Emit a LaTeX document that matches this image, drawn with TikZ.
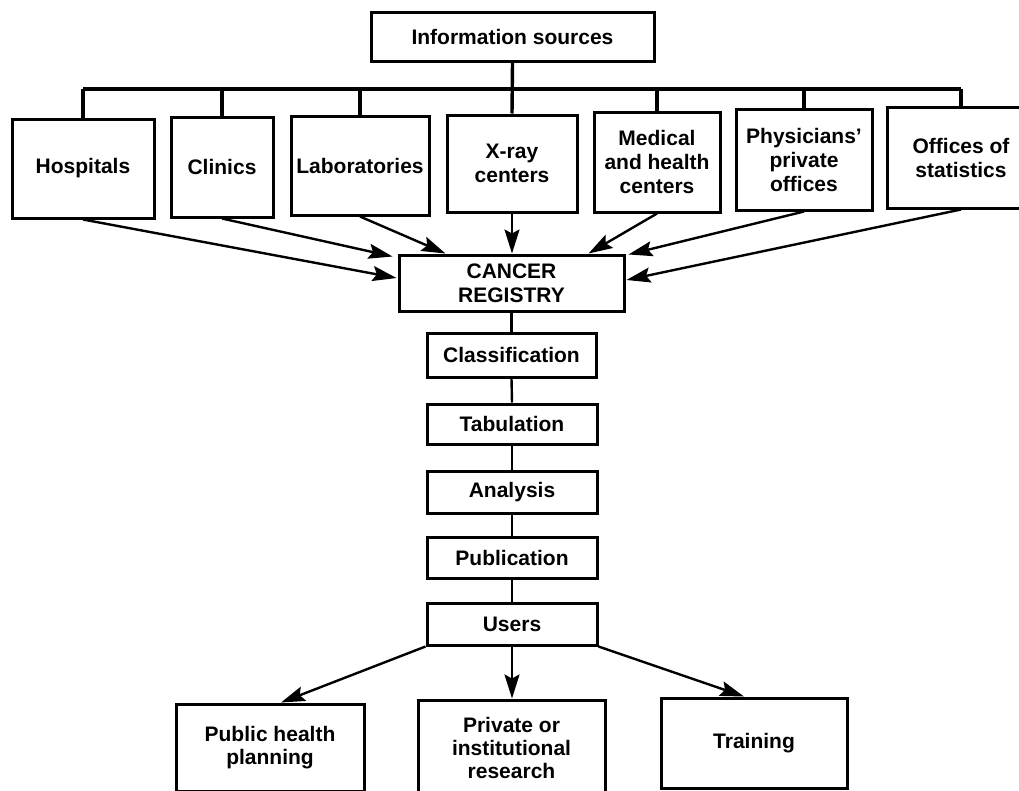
\documentclass[tikz,border=0pt]{standalone}
\usepackage{fontspec}
\setmainfont{Liberation Sans}
\usetikzlibrary{arrows.meta,calc}
\begin{document}
\begin{tikzpicture}[x=1pt,y=-1pt,
  box/.style={draw,line width=3pt,inner sep=0pt,align=center,
    font=\fontsize{21}{24}\selectfont\bfseries},
  lowbox/.style={box,font=\fontsize{21}{23}\selectfont\bfseries},
  bus/.style={line width=3.4pt},
  link/.style={line width=2.4pt},
  arr/.style={line width=2.4pt,-{Stealth[length=24pt,width=15pt,inset=4pt]}}]
\useasboundingbox (0,0) rectangle (1019,790);
% top
\node[box,minimum width=283,minimum height=49] (info) at (512.5,36.5) {Information sources};
\node[box,minimum width=142,minimum height=99] (hosp) at (83,168.5) {Hospitals};
\node[box,minimum width=102,minimum height=100] (clin) at (222,167) {Clinics};
\node[box,minimum width=138,minimum height=99] (lab) at (360,165.5) {Laboratories};
\node[box,minimum width=130,minimum height=97] (xray) at (512,163.5) {X-ray\\centers};
\node[box,minimum width=126,minimum height=100] (med) at (657,162) {Medical\\and health\\centers};
\node[box,minimum width=136,minimum height=101] (phys) at (804,159.5) {Physicians'\\private\\offices};
\node[box,minimum width=148,minimum height=101] (off) at (961,157.5) {Offices of\\statistics};
\coordinate (busy) at (0,89);
\draw[bus] (hosp.north |- busy) -- (off.north |- busy);
\draw[bus] (info.south) -- (xray.north);
\foreach \n in {hosp,clin,lab,med,phys,off}
  \draw[bus] (\n.north) -- (\n.north |- busy);
% registry
\node[box,minimum width=225,minimum height=56] (reg) at (511.5,283) {CANCER\\REGISTRY};
\draw[arr] (hosp.south) -- ($(reg.west)+(-1,-5)$);
\draw[arr] (clin.south) -- ($(reg.north west)+(-5,3)$);
\draw[arr] (lab.south) -- ($(reg.north west)+(48,0)$);
\draw[arr] (xray.south) -- (xray.south |- reg.north);
\draw[arr] (med.south) -- ($(reg.north east)+(-37,0)$);
\draw[arr] (phys.south) -- ($(reg.north east)+(3,1)$);
\draw[arr] (off.south) -- ($(reg.east)+(1,-3)$);
% chain
\node[box,minimum width=169,minimum height=44] (cls) at (511.5,355) {Classification};
\node[box,minimum width=170,minimum height=40] (tab) at (512,424) {Tabulation};
\node[box,minimum width=170,minimum height=42] (ana) at (512,492) {Analysis};
\node[box,minimum width=170,minimum height=41] (pub) at (512,557.5) {Publication};
\node[box,minimum width=170,minimum height=42] (usr) at (512,624) {Users};
\draw[link] (reg.south) -- (cls.north);
\draw[link] (cls.south) -- (tab.north);
\draw[link] (tab.south) -- (ana.north);
\draw[link] (ana.south) -- (pub.north);
\draw[link] (pub.south) -- (usr.north);
% users
\node[lowbox,minimum width=188,minimum height=87] (phealth) at (270,747.5) {Public health\\planning};
\node[lowbox,minimum width=187,minimum height=96] (priv) at (511.5,748) {Private or\\institutional\\research};
\node[lowbox,minimum width=186,minimum height=90] (train) at (754,743) {Training};
\draw[arr] (usr.south west) -- ($(phealth.north)+(11,0)$);
\draw[arr] (usr.south) -- (usr.south |- priv.north);
\draw[arr] (usr.south east) -- ($(train.north)+(-10,0)$);
\end{tikzpicture}
\end{document}
